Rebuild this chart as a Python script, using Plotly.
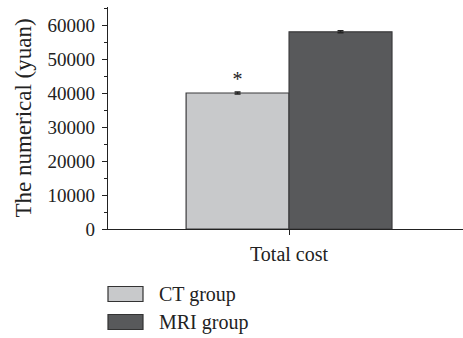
import plotly.graph_objects as go

# Data
categories = ["Total cost"]
groups = ["CT group", "MRI group"]
ct_cost = [40000]
mri_cost = [58000]
ct_err = [300]
mri_err = [300]
colors = ["#c8c9cb", "#58595b"]
tick_vals = [0, 10000, 20000, 30000, 40000, 50000, 60000]

FONT = "Liberation Serif"
EDGE = "#3b3b3d"
INK = "#222222"

fig = go.Figure()
fig.add_trace(go.Bar(
    x=categories, y=ct_cost, name=groups[0],
    marker=dict(color=colors[0], line=dict(color=EDGE, width=1.2)),
    error_y=dict(type="data", array=ct_err, color=INK, thickness=1.5, width=3),
    text=["*"], textposition="outside", cliponaxis=False,
    textfont=dict(family=FONT, size=20, color=INK),
))
fig.add_trace(go.Bar(
    x=categories, y=mri_cost, name=groups[1],
    marker=dict(color=colors[1], line=dict(color=EDGE, width=1.2)),
    error_y=dict(type="data", array=mri_err, color=INK, thickness=1.5, width=3),
))

# Legend below the axis: swatch rectangles (pixel-sized) with text labels
plot_h = 338 - 7 - 109
legend_px = [294, 322]          # swatch centres, pixels from top of page
for g, c, py in zip(groups, colors, legend_px):
    yc = (229 - py) / plot_h
    fig.add_shape(type="rect", xref="paper", yref="paper",
                  xsizemode="pixel", xanchor=0, x0=0, x1=35,
                  ysizemode="pixel", yanchor=yc, y0=-7.5, y1=7.5,
                  line=dict(color="#333333", width=1.2), fillcolor=c)
    fig.add_annotation(text=g, xref="paper", yref="paper", x=0, y=yc,
                       xshift=49, xanchor="left", yanchor="middle", showarrow=False,
                       font=dict(family=FONT, size=20, color=INK))

fig.update_layout(
    width=463, height=338,
    margin=dict(l=108, r=0, t=7, b=109),
    paper_bgcolor="white", plot_bgcolor="white",
    barmode="group", bargap=0.42, bargroupgap=0,
    showlegend=False,
    font=dict(family=FONT, size=19, color=INK),
    xaxis=dict(range=[-0.51, 0.49], showline=True, linecolor=INK, linewidth=1.2,
               ticks="outside", ticklen=5, tickcolor=INK,
               tickfont=dict(family=FONT, size=20, color=INK),
               ticklabelstandoff=2, showgrid=False, zeroline=False),
    yaxis=dict(range=[0, 65300], showline=True, linecolor=INK, linewidth=1.2,
               tickvals=tick_vals, tickformat="d",
               ticks="outside", ticklen=5, tickcolor=INK,
               tickfont=dict(family=FONT, size=19, color=INK),
               ticklabelstandoff=3,
               minor=dict(dtick=5000, ticks="outside", ticklen=3, tickcolor=INK),
               showgrid=False, zeroline=False,
               title=dict(text="The numerical (yuan)", standoff=9,
                          font=dict(family=FONT, size=23, color=INK))),
)

fig.write_html("out.html")
